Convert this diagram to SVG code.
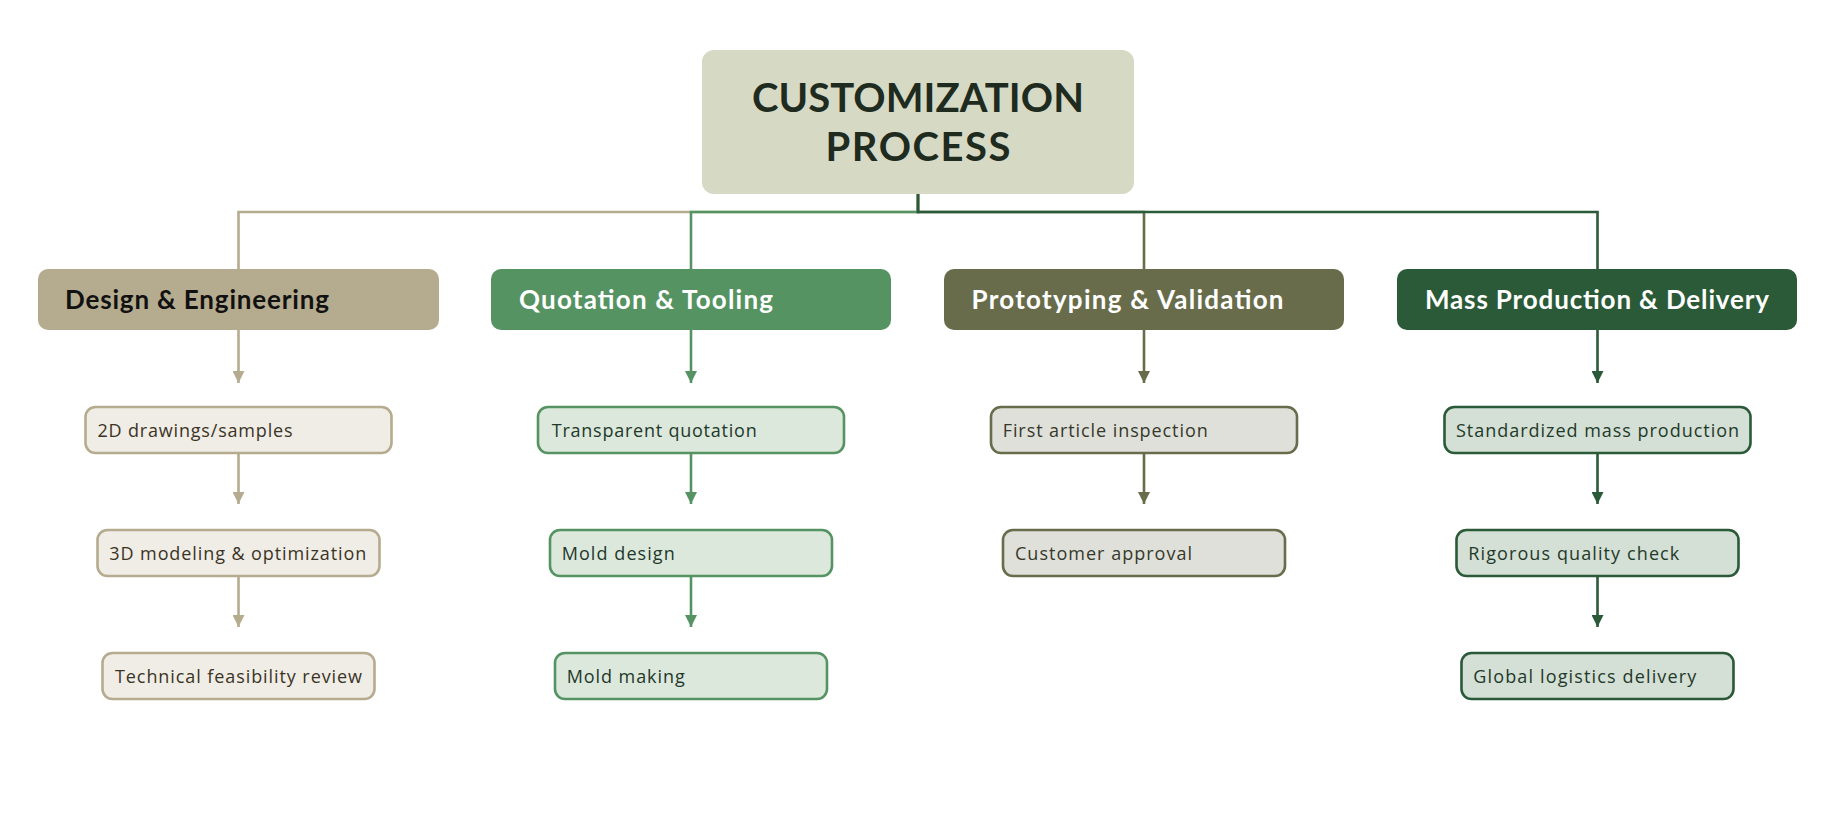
<svg xmlns="http://www.w3.org/2000/svg" width="1838" height="814" viewBox="0 0 1838 814">
<style>
  .title{font-family:Lato,"Open Sans",sans-serif;font-weight:700;font-size:40px;fill:#1f2b1f;text-anchor:middle}
  .cat{font-family:Lato,"Open Sans",sans-serif;font-weight:700;font-size:26px}
  .item{font-family:"Open Sans",Lato,sans-serif;font-size:18px}
  .conn{fill:none;stroke-width:2.6}
  .tan{stroke:#b5ab8e}.grn{stroke:#569362}.olv{stroke:#686c4b}.dkg{stroke:#2a5a37}
  .bt{fill:#efede6;stroke:#b5ab8e;stroke-width:2.6}
  .bg{fill:#dde8dd;stroke:#569362;stroke-width:2.6}
  .bo{fill:#e0e0da;stroke:#686c4b;stroke-width:2.6}
  .bd{fill:#d4dfd6;stroke:#2a5a37;stroke-width:2.6}
  .tt{fill:#3b3425}.tg{fill:#22382a}.to{fill:#35382a}.td{fill:#1f3a28}
</style>
<defs>
  <marker id="aT" viewBox="0 0 12 12" refX="12" refY="6" markerWidth="12" markerHeight="12" markerUnits="userSpaceOnUse" orient="auto"><path d="M0,0 L12,6 L0,12 z" fill="#b5ab8e"/></marker>
  <marker id="aG" viewBox="0 0 12 12" refX="12" refY="6" markerWidth="12" markerHeight="12" markerUnits="userSpaceOnUse" orient="auto"><path d="M0,0 L12,6 L0,12 z" fill="#569362"/></marker>
  <marker id="aO" viewBox="0 0 12 12" refX="12" refY="6" markerWidth="12" markerHeight="12" markerUnits="userSpaceOnUse" orient="auto"><path d="M0,0 L12,6 L0,12 z" fill="#686c4b"/></marker>
  <marker id="aD" viewBox="0 0 12 12" refX="12" refY="6" markerWidth="12" markerHeight="12" markerUnits="userSpaceOnUse" orient="auto"><path d="M0,0 L12,6 L0,12 z" fill="#2a5a37"/></marker>
</defs>
<rect width="1838" height="814" fill="#ffffff"/>

<g id="connectors">
  <path class="conn tan" d="M918,194 V212 H238.5 V269"/>
  <path class="conn grn" d="M918,194 V212 H691 V269"/>
  <path class="conn olv" d="M918,194 V212 H1144 V269"/>
  <path class="conn dkg" d="M918,194 V212 H1597.5 V269"/>

  <path class="conn tan" d="M238.5,330 V383" marker-end="url(#aT)"/>
  <path class="conn tan" d="M238.5,453 V504" marker-end="url(#aT)"/>
  <path class="conn tan" d="M238.5,576 V627" marker-end="url(#aT)"/>

  <path class="conn grn" d="M691,330 V383" marker-end="url(#aG)"/>
  <path class="conn grn" d="M691,453 V504" marker-end="url(#aG)"/>
  <path class="conn grn" d="M691,576 V627" marker-end="url(#aG)"/>

  <path class="conn olv" d="M1144,330 V383" marker-end="url(#aO)"/>
  <path class="conn olv" d="M1144,453 V504" marker-end="url(#aO)"/>

  <path class="conn dkg" d="M1597.5,330 V383" marker-end="url(#aD)"/>
  <path class="conn dkg" d="M1597.5,453 V504" marker-end="url(#aD)"/>
  <path class="conn dkg" d="M1597.5,576 V627" marker-end="url(#aD)"/>
</g>

<g id="root">
  <rect x="702" y="50" width="432" height="144" rx="12" fill="#d6dac4"/>
  <text class="title" x="918" y="111.5" textLength="332">CUSTOMIZATION</text>
  <text class="title" x="918" y="160.5" textLength="185">PROCESS</text>
</g>

<g id="cat-design">
  <rect x="38" y="269" width="401" height="61" rx="10" fill="#b5ab8e"/>
  <text class="cat" x="65" y="309" fill="#111111" textLength="264">Design &amp; Engineering</text>
</g>
<g id="cat-quotation">
  <rect x="491" y="269" width="400" height="61" rx="10" fill="#569362"/>
  <text class="cat" x="519" y="309" fill="#ffffff" textLength="254">Quotation &amp; Tooling</text>
</g>
<g id="cat-prototyping">
  <rect x="944" y="269" width="400" height="61" rx="10" fill="#686c4b"/>
  <text class="cat" x="971.5" y="309" fill="#ffffff" textLength="312">Prototyping &amp; Validation</text>
</g>
<g id="cat-mass">
  <rect x="1397" y="269" width="400" height="61" rx="10" fill="#2a5a37"/>
  <text class="cat" x="1425" y="309" fill="#ffffff" textLength="344">Mass Production &amp; Delivery</text>
</g>

<g id="d1"><rect class="bt" x="85.5" y="407" width="306" height="46" rx="10"/><text class="item tt" x="97.5" y="436.5" textLength="195">2D drawings/samples</text></g>
<g id="d2"><rect class="bt" x="97.5" y="530" width="282" height="46" rx="10"/><text class="item tt" x="109.3" y="559.5" textLength="257">3D modeling &amp; optimization</text></g>
<g id="d3"><rect class="bt" x="102.5" y="653" width="272" height="46" rx="10"/><text class="item tt" x="115" y="682.5" textLength="247">Technical feasibility review</text></g>

<g id="q1"><rect class="bg" x="538" y="407" width="306" height="46" rx="10"/><text class="item tg" x="551.7" y="436.5" textLength="205">Transparent quotation</text></g>
<g id="q2"><rect class="bg" x="550" y="530" width="282" height="46" rx="10"/><text class="item tg" x="561.7" y="559.5" textLength="113">Mold design</text></g>
<g id="q3"><rect class="bg" x="555" y="653" width="272" height="46" rx="10"/><text class="item tg" x="566.7" y="682.5" textLength="118">Mold making</text></g>

<g id="p1"><rect class="bo" x="991" y="407" width="306" height="46" rx="10"/><text class="item to" x="1002.7" y="436.5" textLength="205">First article inspection</text></g>
<g id="p2"><rect class="bo" x="1003" y="530" width="282" height="46" rx="10"/><text class="item to" x="1015" y="559.5" textLength="177">Customer approval</text></g>

<g id="m1"><rect class="bd" x="1444.5" y="407" width="306" height="46" rx="10"/><text class="item td" x="1456" y="436.5" textLength="283">Standardized mass production</text></g>
<g id="m2"><rect class="bd" x="1456.5" y="530" width="282" height="46" rx="10"/><text class="item td" x="1468.3" y="559.5" textLength="211">Rigorous quality check</text></g>
<g id="m3"><rect class="bd" x="1461.5" y="653" width="272" height="46" rx="10"/><text class="item td" x="1473.3" y="682.5" textLength="223">Global logistics delivery</text></g>
</svg>
